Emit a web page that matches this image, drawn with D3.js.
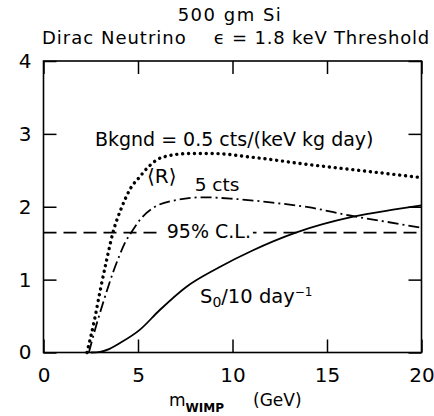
<!DOCTYPE html>
<meta charset="utf-8">
<script src="https://d3js.org/d3.v7.min.js"></script>
<style>
  body { margin: 0; background: #fff; }
  text { font-family: "DejaVu Sans", sans-serif; fill: #000; }
</style>
<div id="chart"></div>
<script>

// WIMP mass (GeV) and curve values
var massBkg  = [2.3, 2.7, 3.0, 3.35, 3.68, 4.15, 4.6, 5.09, 5.6, 6.3, 7.72, 9, 11, 14, 17, 20];
var bkgR     = [0, 0.45, 0.85, 1.28, 1.65, 2.0, 2.25, 2.41, 2.56, 2.68, 2.73, 2.73, 2.68, 2.58, 2.49, 2.40];

var massCts  = [2.4, 2.8, 3.15, 3.68, 4.05, 4.3, 4.65, 5.1, 5.9, 7.2, 8.4, 10, 12, 14.1, 16.2, 18, 20];
var fiveCts  = [0, 0.38, 0.68, 1.1, 1.35, 1.5, 1.65, 1.82, 2.0, 2.1, 2.13, 2.11, 2.06, 1.99, 1.88, 1.8, 1.71];

var massS0   = [2.5, 3.0, 3.5, 4.05, 5.09, 6.14, 7.55, 9.3, 11.06, 13.35, 16.33, 18.5, 20];
var s0       = [0, 0.01, 0.05, 0.13, 0.31, 0.58, 0.90, 1.17, 1.40, 1.645, 1.86, 1.96, 2.02];

var clLevel  = 1.645;

var xTicks = [0, 5, 10, 15, 20];
var yTicks = [0, 1, 2, 3, 4];

var width = 434, height = 416;

var svg = d3.select("#chart").append("svg")
    .attr("width", width)
    .attr("height", height);

var x = d3.scaleLinear().domain([0, 20]).range([43.5, 421.5]);
var y = d3.scaleLinear().domain([0, 4]).range([352.5, 61]);

// titles
svg.append("text").attr("x", 230).attr("y", 21)
    .attr("text-anchor", "middle").style("font-size", "18px").style("letter-spacing", "1.5px")
    .text("500 gm Si");
svg.append("text").attr("x", 42).attr("y", 44)
    .style("font-size", "18px").style("letter-spacing", "1px").text("Dirac Neutrino");
svg.append("text").attr("x", 430).attr("y", 44)
    .attr("text-anchor", "end").style("font-size", "18px").style("letter-spacing", "0.8px")
    .text("\u03f5 = 1.8 keV Threshold");

// axes with inward ticks
var gx = svg.append("g").attr("transform", "translate(0," + y(0) + ")")
    .call(d3.axisBottom(x).tickValues(xTicks).tickSize(-13).tickPadding(15).tickFormat(d3.format("d")));
svg.append("g").attr("transform", "translate(0," + y(4) + ")")
    .call(d3.axisTop(x).tickValues(xTicks).tickSize(-13).tickFormat(""));
var gy = svg.append("g").attr("transform", "translate(" + x(0) + ",0)")
    .call(d3.axisLeft(y).tickValues(yTicks).tickSize(-13).tickPadding(12).tickFormat(d3.format("d")));
svg.append("g").attr("transform", "translate(" + x(20) + ",0)")
    .call(d3.axisRight(y).tickValues(yTicks).tickSize(-13).tickFormat(""));

svg.selectAll(".domain").remove();
svg.selectAll(".tick line").attr("stroke", "#000").attr("stroke-width", 1.5);
svg.selectAll(".tick text").style("font-size", "20px")
    .style("font-family", "DejaVu Sans, sans-serif").attr("fill", "#000");
gx.selectAll(".tick text").attr("dy", "0.72em");

// frame
svg.append("rect")
    .attr("x", x(0)).attr("y", y(4))
    .attr("width", x(20) - x(0)).attr("height", y(0) - y(4))
    .attr("fill", "none").attr("stroke", "#000").attr("stroke-width", 1.6);

// x label
var xl = svg.append("text").attr("x", 169).attr("y", 406).style("font-size", "17px");
xl.append("tspan").text("m");
xl.append("tspan").attr("dy", 6).style("font-size", "12px").style("font-weight", "bold").text("WIMP");
xl.append("tspan").attr("x", 253).attr("y", 406).text("(GeV)");

function line(xs, ys) {
  return d3.line()
    .x(function(d, i) { return x(xs[i]); })
    .y(function(d) { return y(d); })
    .curve(d3.curveMonotoneX)(ys);
}

// 95% C.L. dashed line
svg.append("line")
    .attr("x1", x(0)).attr("x2", x(20))
    .attr("y1", y(clLevel)).attr("y2", y(clLevel))
    .attr("stroke", "#000").attr("stroke-width", 1.6)
    .attr("stroke-dasharray", "13,7");

// curves
svg.append("path").attr("d", line(massBkg, bkgR))
    .attr("fill", "none").attr("stroke", "#000").attr("stroke-width", 3.4)
    .attr("stroke-linecap", "round").attr("stroke-dasharray", "0.1,5.8");

svg.append("path").attr("d", line(massCts, fiveCts))
    .attr("fill", "none").attr("stroke", "#000").attr("stroke-width", 1.8)
    .attr("stroke-dasharray", "11,4,2,4");

svg.append("path").attr("d", line(massS0, s0))
    .attr("fill", "none").attr("stroke", "#000").attr("stroke-width", 1.8);

// annotations
function label(xv, yv, size) {
  return svg.append("text").attr("x", x(xv)).attr("y", y(yv)).style("font-size", size + "px");
}

label(2.72, 2.84, 19).text("Bkgnd = 0.5 cts/(keV kg day)");
label(5.48, 2.32, 20).text("\u27e8R\u27e9");
label(8.0, 2.22, 18.5).text("5 cts");

var clBg = svg.append("rect").attr("fill", "#fff");
var cl = label(6.52, 1.57, 19).text("95% C.L.");
var bb = cl.node().getBBox();
clBg.attr("x", bb.x - 4).attr("y", bb.y).attr("width", bb.width + 6).attr("height", bb.height);

var s = label(8.28, 0.674, 19.5);
s.append("tspan").text("S");
s.append("tspan").attr("dy", 4).style("font-size", "14px").text("0");
s.append("tspan").attr("dy", -4).text("/10 day");
s.append("tspan").attr("dy", -7).style("font-size", "12px").text("\u22121");

</script>
